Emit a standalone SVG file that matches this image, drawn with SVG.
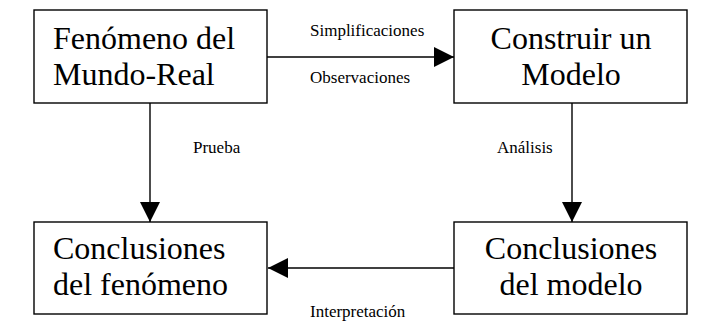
<svg xmlns="http://www.w3.org/2000/svg" width="702" height="326" viewBox="0 0 702 326">
<defs>
<style>
.box{fill:#fff;stroke:#000;stroke-width:1.4}
.big{font-family:"Liberation Serif","Times New Roman",serif;font-size:32px;fill:#000}
.lbl{font-family:"Liberation Serif","Times New Roman",serif;font-size:17px;fill:#000}
.ln{stroke:#000;stroke-width:1.4;fill:none}
.mid{text-anchor:middle}
</style>
<marker id="ah" markerWidth="20" markerHeight="20" refX="20" refY="10" orient="auto" markerUnits="userSpaceOnUse" viewBox="0 0 20 20">
<path d="M0,0 L20,10 L0,20 Z" fill="#000"/>
</marker>
</defs>
<rect width="702" height="326" fill="#fff"/>
<g id="connectors">
<line class="ln" x1="267" y1="57" x2="454" y2="57" marker-end="url(#ah)"/>
<line class="ln" x1="150" y1="103" x2="150" y2="222" marker-end="url(#ah)"/>
<line class="ln" x1="572" y1="103" x2="572" y2="222" marker-end="url(#ah)"/>
<line class="ln" x1="454" y1="268" x2="268" y2="268" marker-end="url(#ah)"/>
<text class="lbl" x="310" y="36">Simplificaciones</text>
<text class="lbl" x="310" y="83">Observaciones</text>
<text class="lbl" x="193" y="153">Prueba</text>
<text class="lbl" x="497" y="153">Análisis</text>
<text class="lbl" x="310" y="317">Interpretación</text>
</g>
<g id="fenomeno">
<rect class="box" x="34" y="10" width="233" height="93"/>
<text class="big" x="53" y="49">Fenómeno del</text>
<text class="big" x="53" y="85">Mundo-Real</text>
</g>
<g id="modelo">
<rect class="box" x="454" y="10" width="233" height="93"/>
<text class="big mid" x="571" y="49">Construir un</text>
<text class="big mid" x="571" y="85">Modelo</text>
</g>
<g id="concl-fenomeno">
<rect class="box" x="34" y="222" width="233" height="92"/>
<text class="big" x="53" y="259">Conclusiones</text>
<text class="big" x="53" y="295">del fenómeno</text>
</g>
<g id="concl-modelo">
<rect class="box" x="454" y="222" width="233" height="92"/>
<text class="big mid" x="571" y="259">Conclusiones</text>
<text class="big mid" x="571" y="295">del modelo</text>
</g>
</svg>
